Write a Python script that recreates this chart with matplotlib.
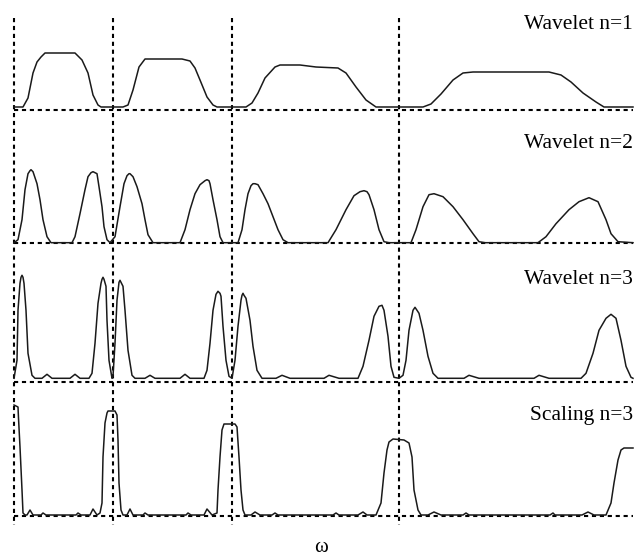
import matplotlib
matplotlib.use("Agg")
import matplotlib.pyplot as plt

# ---- data (omega in arbitrary units, amplitude above each panel's baseline) ----
w1_omega = [0, 9, 14, 19, 23, 27, 31, 61, 68, 74, 79, 84, 87, 109, 114, 119, 125, 131, 168, 176, 181, 186,
            193, 199, 203, 232, 238, 244, 251, 261, 266, 286, 302, 324, 332, 342, 352, 362, 409, 417, 427,
            439, 449, 459, 535, 547, 557, 569, 582, 590, 619]
w1_amp = [0, 0, 9, 34, 45, 50, 54, 54, 47, 34, 12, 2, 0, 0, 2, 17, 40, 48, 48, 46, 39, 27,
          10, 2, 0, 0, 4, 14, 29, 40, 42, 42, 40, 39, 34, 20, 7, 0, 0, 3, 13,
          27, 34, 35, 35, 32, 25, 14, 5, 0, 0]

w2_omega = [0, 4, 8, 11, 14, 16, 17, 18, 19, 23, 26, 29, 33, 37, 58, 61, 66, 71, 74, 77, 79, 81, 83, 85,
            88, 90, 93, 96, 101, 106, 110, 113, 115, 116, 117, 119, 123, 128, 131, 134, 139, 166, 171, 176,
            181, 186, 191, 193, 195, 196, 199, 203, 206, 209, 224, 228, 231, 234, 237, 239, 241, 244, 249,
            254, 259, 264, 269, 274, 314, 322, 332, 340, 346, 350, 353, 355, 360, 365, 370, 375, 397, 402,
            409, 415, 420, 429, 439, 449, 459, 465, 471, 524, 532, 542, 555, 565, 575, 584, 592, 597, 604,
            619]
w2_amp = [0, 3, 23, 53, 69, 72, 73, 72, 71, 59, 43, 23, 6, 0, 0, 6, 29, 53, 66, 70, 71, 70, 69, 56,
          36, 16, 3, 0, 6, 36, 59, 67, 69, 69, 68, 66, 56, 39, 23, 8, 0, 0, 13, 33,
          49, 58, 62, 63, 62, 59, 43, 23, 6, 0, 0, 13, 33, 49, 57, 59, 59, 58, 49,
          39, 26, 13, 3, 0, 0, 13, 33, 47, 51, 52, 51, 48, 33, 13, 1, 0, 0, 13,
          36, 48, 49, 46, 36, 23, 9, 1, 0, 0, 6, 19, 33, 41, 45, 41, 23, 9, 1,
          0]

w3_omega = [0, 3, 4, 6, 7, 8, 9, 10, 12, 14, 18, 21, 28, 33, 38, 56, 61, 66, 75, 78, 81, 84, 87, 88,
            89, 90, 92, 93, 95, 98, 99, 101, 103, 105, 106, 107, 109, 111, 114, 118, 121, 131, 136, 141,
            166, 171, 176, 190, 193, 196, 199, 202, 204, 206, 207, 209, 212, 215, 218, 221, 224, 227, 228,
            229, 230, 232, 236, 239, 243, 248, 262, 268, 276, 310, 315, 325, 344, 349, 355, 360, 365, 368,
            370, 374, 377, 380, 385, 389, 392, 395, 399, 401, 405, 409, 414, 419, 424, 450, 455, 465, 520,
            525, 535, 567, 572, 579, 585, 592, 597, 602, 607, 612, 617, 619]
w3_amp = [0, 18, 68, 95, 101, 103, 101, 95, 68, 25, 3, 0, 0, 4, 0, 0, 4, 0, 0, 5, 35, 75, 95, 99,
          101, 99, 92, 58, 18, 0, 2, 35, 78, 96, 98, 96, 92, 68, 28, 3, 0, 0, 3, 0,
          0, 4, 0, 0, 8, 35, 68, 84, 87, 85, 82, 52, 18, 2, 0, 18, 52, 78, 83,
          85, 83, 80, 58, 32, 8, 0, 0, 3, 0, 0, 3, 0, 0, 12, 38, 62, 72, 73,
          68, 42, 12, 1, 0, 3, 18, 48, 68, 71, 65, 48, 22, 5, 0, 0, 3, 0, 0,
          3, 0, 0, 5, 25, 48, 60, 64, 60, 38, 12, 1, 0]

s3_omega = [0, 4, 4.5, 6, 8, 9, 11, 13, 16, 19, 27, 29, 32, 62, 64, 67, 76, 79, 83, 86, 88, 89, 91, 93,
            94, 101, 103, 104, 105, 107, 109, 113, 116, 119, 129, 131, 134, 172, 174, 177, 190, 193, 198,
            203, 204, 206, 208, 210, 212, 221, 223, 225, 227, 229, 231, 237, 241, 246, 258, 261, 264, 319,
            322, 325, 344, 349, 353, 362, 367, 370, 373, 375, 379, 390, 395, 398, 400, 404, 407, 414, 420,
            427, 449, 452, 455, 536, 539, 541, 568, 574, 580, 592, 597, 600, 604, 607, 610, 619]
s3_amp = [110, 108, 97, 68, 25, 2, 0, 0, 5, 0, 0, 2, 0, 0, 2, 0, 0, 6, 0, 2, 12, 58, 92, 102,
          104, 104, 100, 75, 32, 5, 0, 0, 6, 0, 0, 2, 0, 0, 2, 0, 0, 6, 0,
          2, 25, 58, 85, 91, 91, 91, 88, 58, 25, 5, 0, 0, 3, 0, 0, 2, 0, 0,
          2, 0, 0, 3, 0, 0, 12, 42, 65, 73, 76, 75, 72, 58, 25, 5, 0, 0, 3,
          0, 0, 2, 0, 0, 2, 0, 0, 3, 0, 0, 12, 32, 55, 65, 67, 67]

labels = ["Wavelet n=1", "Wavelet n=2", "Wavelet n=3", "Scaling n=3"]
boundaries = [0, 99, 218, 385]
xlabel = "\u03c9"

# ---- layout ----
W, H = 636, 559
fig = plt.figure(figsize=(W / 100, H / 100), dpi=100)
ax = fig.add_axes([0, 0, 1, 1])
ax.set_xlim(-14, W - 14)
ax.set_ylim(H, 0)
ax.axis("off")

series = [(w1_omega, w1_amp), (w2_omega, w2_amp), (w3_omega, w3_amp), (s3_omega, s3_amp)]
curve_base = [107, 242.7, 378.3, 515]
dot_base = [110, 243.3, 382, 516]
label_y = [29, 148, 284, 420]

dash = (0, (2.0, 1.8))
for b in boundaries:
    ax.plot([b, b], [18, 525], color="black", lw=1.5, linestyle=dash)

for (om, amp), cb, db, lab, ly in zip(series, curve_base, dot_base, labels, label_y):
    ax.plot([0, 619], [db, db], color="black", lw=1.5, linestyle=dash)
    ax.plot(om, [cb - a for a in amp], color="#1a1a1a", lw=1.1, solid_joinstyle="round")
    ax.text(619, ly, lab, ha="right", va="baseline", fontsize=15.5,
            family="Liberation Serif", color="black")

ax.text(307, 552, xlabel, ha="center", va="baseline", fontsize=15,
        family="Liberation Serif", color="black")

fig.savefig("out.png", dpi=100)
